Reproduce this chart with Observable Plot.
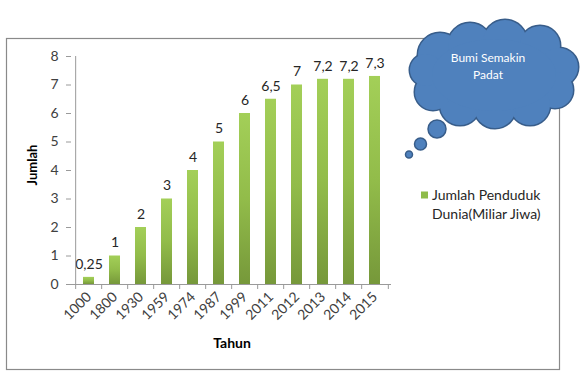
<!DOCTYPE html>
<html>
<head>
<meta charset="utf-8">
<script src="https://cdn.jsdelivr.net/npm/d3@7"></script>
<script src="https://cdn.jsdelivr.net/npm/@observablehq/plot@0.6"></script>
<style>
  html, body { margin: 0; padding: 0; background: #fff; }
  #wrap { position: relative; width: 580px; height: 376px; overflow: hidden; font-family: Lato, "Open Sans", sans-serif; }
  #wrap > svg { position: absolute; left: 0; top: 0; }
</style>
</head>
<body>
<div id="wrap"></div>
<script>
const years = ["1000","1800","1930","1959","1974","1987","1999","2011","2012","2013","2014","2015"];
const population = [0.25, 1, 2, 3, 4, 5, 6, 6.5, 7, 7.2, 7.2, 7.3];
const yTicks = [0, 1, 2, 3, 4, 5, 6, 7, 8];
const seriesName = ["Jumlah Penduduk", "Dunia(Miliar Jiwa)"];
const calloutText = ["Bumi Semakin", "Padat"];
const xTitle = "Tahun";
const yTitle = "Jumlah";

const data = years.map((y, i) => ({year: y, value: population[i]}));
const fmt = v => String(v).replace(".", ",");

const W = 580, H = 376;
const mL = 71, mR = 189, mT = 56, mB = 92;
const step = (W - mL - mR) / years.length;
const axisGray = "#9a9a9a";

const chart = Plot.plot({
  width: W, height: H,
  marginLeft: mL, marginRight: mR, marginTop: mT, marginBottom: mB,
  style: {fontFamily: "Lato, 'Open Sans', sans-serif", color: "#404040", background: "transparent"},
  x: {domain: years, paddingInner: 0.59, paddingOuter: 0.295, label: null},
  y: {domain: [0, 8], label: null},
  marks: [
    Plot.barY(data, {x: "year", y: "value", fill: "url(#barGrad)"}),
    Plot.text(data, {x: "year", y: "value", text: d => fmt(d.value), dy: -13, fontSize: 14, fill: "#262626"}),
    Plot.axisY({ticks: yTicks, tickSize: 5, tickPadding: 8, fontSize: 14, stroke: axisGray, fill: "#404040", label: null}),
    Plot.ruleX([years[0]], {x: d => d, dx: -step / 2, y1: 0, y2: 8, stroke: axisGray}),
    Plot.ruleY([0], {stroke: axisGray}),
    Plot.ruleX(years, {x: d => d, dx: -step / 2, y1: 0, y2: 0, insetBottom: -5, stroke: axisGray}),
    Plot.ruleX([years[years.length - 1]], {x: d => d, dx: step / 2, y1: 0, y2: 0, insetBottom: -5, stroke: axisGray}),
    Plot.axisX({tickSize: 0, tickRotate: -45, tickPadding: 10, fontSize: 14, fill: "#404040", label: null})
  ]
});

// vertical gradient for bars
const defs = document.createElementNS("http://www.w3.org/2000/svg", "defs");
defs.innerHTML = `<linearGradient id="barGrad" x1="0" y1="0" x2="0" y2="1">
  <stop offset="0" stop-color="#a3cf58"/>
  <stop offset="0.5" stop-color="#92bc4a"/>
  <stop offset="1" stop-color="#76983a"/></linearGradient>`;
chart.insertBefore(defs, chart.firstChild);

const wrap = document.getElementById("wrap");
const ns = "http://www.w3.org/2000/svg";

// frame
const ov = document.createElementNS(ns, "svg");
ov.setAttribute("width", W); ov.setAttribute("height", H);
ov.innerHTML = `<rect x="6.5" y="38.5" width="553" height="331" fill="none" stroke="#8a8a8a" stroke-width="1.2"/>`;
wrap.appendChild(ov);
wrap.appendChild(chart);

// titles, legend, callout
const ov2 = document.createElementNS(ns, "svg");
ov2.setAttribute("width", W); ov2.setAttribute("height", H);
const lumps = [[440,55,22],[470,45,22],[505,42,22],[540,46,20],[559,67,19],[555,90,18],[530,105,20],[495,107,21],[460,105,20],[433,92,18],[426,70,16]];
const bubbles = [[437,129,9],[420.5,144,6],[409,154.5,3.5]];
let c = "";
c += `<text x="37" y="165" transform="rotate(-90 37 165)" text-anchor="middle" font-weight="bold" font-size="13" fill="#000">${yTitle}</text>`;
c += `<text x="232" y="348" text-anchor="middle" font-weight="bold" font-size="14" fill="#000">${xTitle}</text>`;
c += `<rect x="421" y="191.5" width="7" height="7" fill="#8fbc4a"/>`;
c += `<text x="432" y="200" font-size="14" fill="#262626">${seriesName[0]}</text>`;
c += `<text x="432" y="219" font-size="14" fill="#262626">${seriesName[1]}</text>`;
let g = "";
lumps.forEach(([x,y,r]) => { g += `<circle cx="${x}" cy="${y}" r="${r}"/>`; });
g += `<ellipse cx="494" cy="75" rx="62" ry="36"/>`;
c += `<g fill="#4f81bd" stroke="#385d8a" stroke-width="3">${g}</g>`;
c += `<g fill="#4f81bd" stroke="none">${g}</g>`;
bubbles.forEach(([x,y,r]) => { c += `<circle cx="${x}" cy="${y}" r="${r}" fill="#4f81bd" stroke="#385d8a" stroke-width="1.5"/>`; });
c += `<text x="488" y="62" text-anchor="middle" font-size="12" fill="#fff">${calloutText[0]}</text>`;
c += `<text x="488" y="79" text-anchor="middle" font-size="12" fill="#fff">${calloutText[1]}</text>`;
ov2.innerHTML = c;
wrap.appendChild(ov2);
</script>
</body>
</html>
